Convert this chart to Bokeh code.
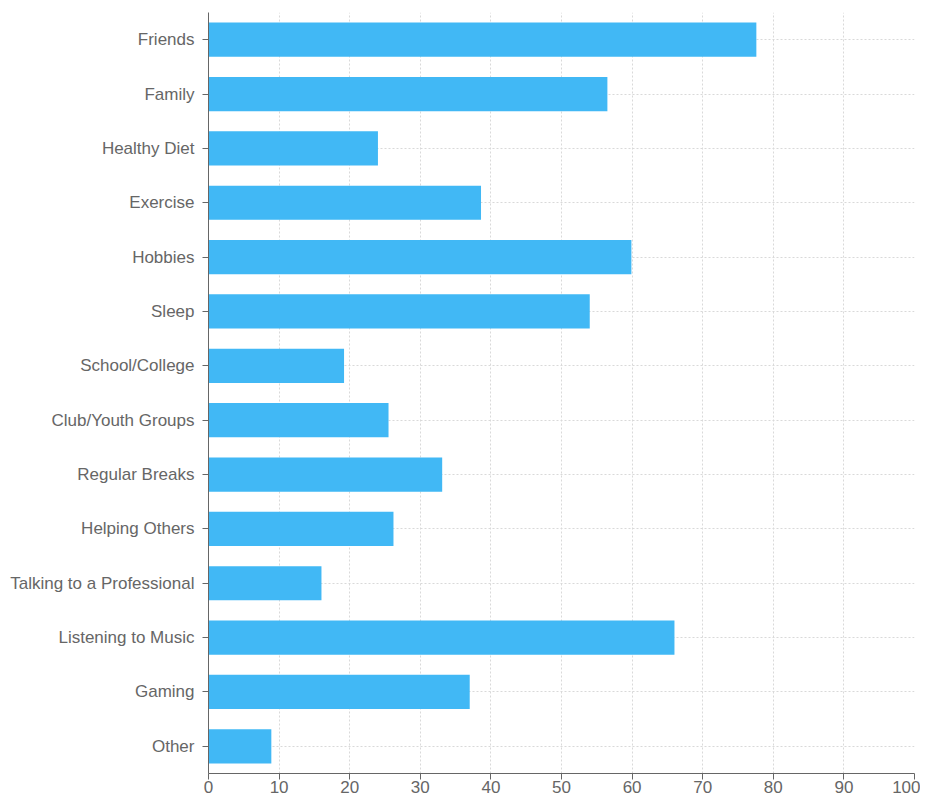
from bokeh.plotting import figure
from bokeh.models import FactorRange, Range1d, ColumnDataSource, FixedTicker
from bokeh.embed import file_html
from bokeh.resources import INLINE

categories = ["Friends", "Family", "Healthy Diet", "Exercise", "Hobbies", "Sleep",
              "School/College", "Club/Youth Groups", "Regular Breaks", "Helping Others",
              "Talking to a Professional", "Listening to Music", "Gaming", "Other"]
values = [77.6, 56.5, 24.0, 38.6, 59.9, 54.0, 19.2, 25.5, 33.1, 26.2, 16.0, 66.0, 37.0, 8.9]
x_ticks = [0, 10, 20, 30, 40, 50, 60, 70, 80, 90, 100]

src = ColumnDataSource(dict(cat=categories, val=values))

p = figure(width=920, height=797, output_backend="svg", toolbar_location=None,
           y_range=FactorRange(factors=list(reversed(categories)), range_padding=0),
           x_range=Range1d(0, 100),
           min_border_left=208, min_border_right=6, min_border_top=12, min_border_bottom=24)
p.outline_line_color = None
p.hbar(y="cat", right="val", left=0, height=0.63, source=src,
       fill_color="#41b8f5", line_color=None)

p.xaxis.ticker = FixedTicker(ticks=x_ticks)
for ax in (p.xaxis, p.yaxis):
    ax.axis_line_color = "#666666"
    ax.major_tick_line_color = "#666666"
    ax.major_tick_out = 6
    ax.major_tick_in = 0
    ax.minor_tick_line_color = None
    ax.major_label_text_color = "#666666"
    ax.major_label_text_font = "Liberation Sans"
    ax.major_label_text_font_size = "17px"
p.xaxis.major_label_standoff = 1
p.yaxis.major_label_standoff = 8

for g in (p.xgrid, p.ygrid):
    g.grid_line_color = "#d9d9d9"
    g.grid_line_dash = "2 2"
    g.grid_line_width = 1

open("out.html", "w").write(file_html(p, INLINE))
